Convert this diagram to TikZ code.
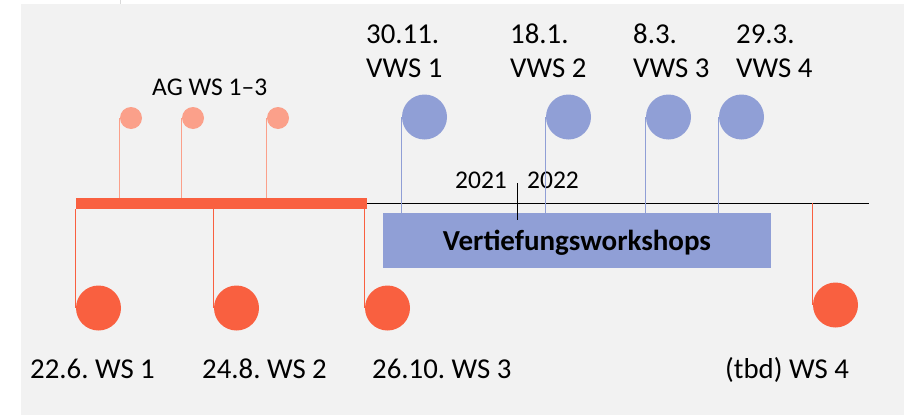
\documentclass[tikz,border=0pt]{standalone}
\usepackage{fontspec}
\setmainfont{Carlito}
\frenchspacing
\definecolor{bggray}{HTML}{F2F2F2}
\definecolor{ws}{HTML}{F96040}
\definecolor{ag}{HTML}{FBA08A}
\definecolor{vws}{HTML}{909FD6}
\tikzset{
  wsdot/.style={circle, fill=ws, inner sep=0pt, minimum size=45pt},
  vwsdot/.style={circle, fill=vws, inner sep=0pt, minimum size=45pt},
  agdot/.style={circle, fill=ag, inner sep=0pt, minimum size=22pt},
  wsstem/.style={draw=ws, line width=1.1pt},
  vwsstem/.style={draw=vws, line width=1.1pt},
  agstem/.style={draw=ag, line width=1.1pt},
  lab/.style={anchor=base west, inner sep=0pt, font=\fontsize{28.8}{34}\selectfont},
  small/.style={anchor=base west, inner sep=0pt, font=\fontsize{25.5}{30}\selectfont},
}
\begin{document}
\begin{tikzpicture}[x=1pt, y=-1pt]
\useasboundingbox (0,0) rectangle (904,415);
\fill[bggray] (21,4) rectangle (904,415);
\draw[black!15, line width=1pt] (120,0) -- (120,4);
% timeline
\coordinate (tl0) at (76,203);
\coordinate (tl1) at (869,203);
\draw[black, line width=1pt] (tl0) -- (tl1);
% orange bar
\node[fill=ws, inner sep=0pt, minimum width=291pt, minimum height=11pt, anchor=north west] (bar) at (76,198) {};
% Vertiefungsworkshops box
\node[fill=vws, inner sep=0pt, minimum width=388pt, minimum height=55pt, anchor=north west] (vbox) at (383,213) {};
\node[inner sep=0pt, anchor=base, font=\fontsize{29}{34}\selectfont\bfseries] (vtext) at (577,250) {Vertiefungsworkshops};
% year tick
\coordinate (yt0) at (517,183);
\coordinate (yt1) at (517,220);
\draw[black, line width=1pt] (yt0) -- (yt1);
\node[small] (y21) at (455,188) {2021};
\node[small] (y22) at (527,188) {2022};
% AG dots
\node[agdot] (ag1) at (131,118) {};
\node[agdot] (ag2) at (193,118) {};
\node[agdot] (ag3) at (278,118) {};
\foreach \n in {ag1,ag2,ag3}{
  \draw[agstem] (\n.west) -- (\n.west |- bar.north);
}
\node[small] (aglab) at (152,95.5) {AG WS 1–3};
% VWS dots
\node[vwsdot] (v1) at (424.5,117) {};
\node[vwsdot] (v2) at (568.5,117) {};
\node[vwsdot] (v3) at (668.5,117) {};
\node[vwsdot] (v4) at (741.5,117) {};
\foreach \n in {v1,v2,v3,v4}{
  \draw[vwsstem] (\n.west) -- (\n.west |- vbox.north);
}
\node[lab] (v1a) at (366,43) {30.11.};
\node[lab] (v1b) at (366,77) {VWS 1};
\node[lab] (v2a) at (510,43) {18.1.};
\node[lab] (v2b) at (510,77) {VWS 2};
\node[lab] (v3a) at (633,43) {8.3.};
\node[lab] (v3b) at (633,77) {VWS 3};
\node[lab] (v4a) at (736,43) {29.3.};
\node[lab] (v4b) at (736,77) {VWS 4};
% WS dots
\node[wsdot] (w1) at (98.5,308) {};
\node[wsdot] (w2) at (236.5,308) {};
\node[wsdot] (w3) at (387.5,308) {};
\node[wsdot] (w4) at (835.5,305) {};
\foreach \n in {w1,w2,w3}{
  \draw[wsstem] (\n.west) -- (\n.west |- bar.south);
}
\draw[wsstem] (w4.west) -- (w4.west |- tl1);
\node[lab] (w1l) at (30,378) {22.6. WS 1};
\node[lab] (w2l) at (202,378) {24.8. WS 2};
\node[lab] (w3l) at (372,378) {26.10. WS 3};
\node[lab] (w4l) at (725,378) {(tbd) WS 4};
\end{tikzpicture}
\end{document}
